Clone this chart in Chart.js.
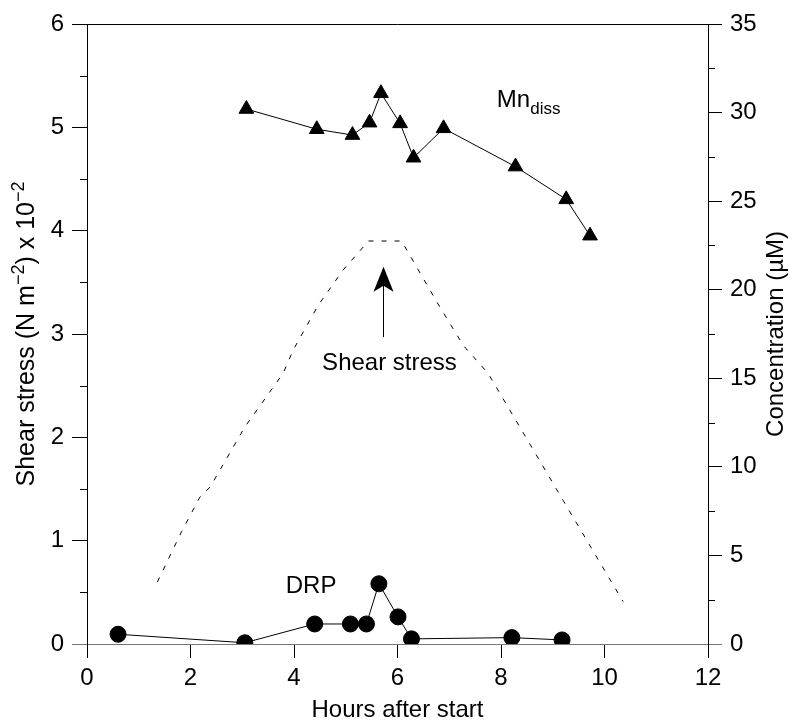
<!DOCTYPE html>
<html>
<head>
<meta charset="utf-8">
<script src="https://cdn.jsdelivr.net/npm/chart.js@4.4.0/dist/chart.umd.min.js"></script>
<style>
  html, body { margin: 0; padding: 0; background: #fff; }
</style>
</head>
<body>
<canvas id="grafico" width="796" height="726"></canvas>
<script>
// Esfuerzo de corte (eje izquierdo, N m-2 x 10-2)
const horasCorte = [1.36, 1.83, 2.18, 2.38, 3.05, 3.79, 3.99, 4.47, 4.95, 5.44, 6.08, 6.31, 6.76, 7.27, 7.75, 9.20, 10.36];
const esfuerzoCorte = [0.60, 1.09, 1.42, 1.52, 2.10, 2.62, 2.85, 3.28, 3.62, 3.90, 3.90, 3.70, 3.31, 2.89, 2.62, 1.39, 0.41];

// Mn disuelto (eje derecho, uM)
const horasMn = [3.08, 4.44, 5.13, 5.46, 5.68, 6.05, 6.31, 6.89, 8.28, 9.26, 9.72];
const mnDiss = [30.2, 29.06, 28.73, 29.43, 31.09, 29.39, 27.45, 29.11, 26.95, 25.1, 23.05];

// DRP (eje derecho, uM)
const horasDrp = [0.60, 3.05, 4.40, 5.09, 5.40, 5.64, 6.01, 6.27, 8.21, 9.18];
const drp = [0.55, 0.07, 1.13, 1.13, 1.13, 3.40, 1.53, 0.29, 0.36, 0.23];

// Ticks de los ejes
const ticksX = [0, 2, 4, 6, 8, 10, 12];
const ticksIzq = [0, 1, 2, 3, 4, 5, 6];
const ticksDer = [0, 5, 10, 15, 20, 25, 30, 35];

const fuente = '"Liberation Sans", Arial, sans-serif';
const toPuntos = (xs, ys) => xs.map((x, i) => ({ x: x, y: ys[i] }));

// Dibuja textos, flecha, ticks menores y linea superior
const extras = {
  id: 'extras',
  afterDraw(chart) {
    const { ctx, chartArea, scales } = chart;
    const sx = scales.x, sy = scales.y, sy1 = scales.y1;
    ctx.save();
    ctx.fillStyle = '#000';
    ctx.strokeStyle = '#000';
    ctx.lineWidth = 1;

    // linea superior
    ctx.beginPath();
    ctx.moveTo(chartArea.left, chartArea.top + 0.5);
    ctx.lineTo(chartArea.right, chartArea.top + 0.5);
    ctx.stroke();

    // ticks menores
    ctx.beginPath();
    for (let v = 0.5; v < 6; v += 1) {
      const y = Math.round(sy.getPixelForValue(v)) + 0.5;
      ctx.moveTo(chartArea.left - 7, y);
      ctx.lineTo(chartArea.left, y);
    }
    for (let v = 2.5; v < 35; v += 5) {
      const y = Math.round(sy1.getPixelForValue(v)) + 0.5;
      ctx.moveTo(chartArea.right, y);
      ctx.lineTo(chartArea.right + 7, y);
    }
    ctx.stroke();

    // etiquetas
    ctx.textBaseline = 'alphabetic';
    ctx.textAlign = 'left';
    ctx.font = '24px ' + fuente;
    const mx = sx.getPixelForValue(7.92), my = sy1.getPixelForValue(30.3);
    ctx.fillText('Mn', mx, my);
    const wMn = ctx.measureText('Mn').width;
    ctx.font = '17px ' + fuente;
    ctx.fillText('diss', mx + wMn, my + 7);

    ctx.font = '24px ' + fuente;
    ctx.textAlign = 'center';
    ctx.fillText('Shear stress', sx.getPixelForValue(5.845), sy.getPixelForValue(2.65));
    ctx.textAlign = 'left';
    ctx.fillText('DRP', sx.getPixelForValue(3.84), sy.getPixelForValue(0.49));

    // flecha
    const ax = Math.round(sx.getPixelForValue(5.72)) + 0.5;
    const ay0 = sy.getPixelForValue(2.97), ay1 = sy.getPixelForValue(3.65);
    ctx.beginPath();
    ctx.moveTo(ax, ay0);
    ctx.lineTo(ax, ay1 + 15);
    ctx.stroke();
    ctx.beginPath();
    ctx.moveTo(ax, ay1);
    ctx.lineTo(ax - 10, ay1 + 25);
    ctx.lineTo(ax, ay1 + 19);
    ctx.lineTo(ax + 10, ay1 + 25);
    ctx.closePath();
    ctx.fill();

    // titulos de los ejes verticales con superindices
    const cy = (chartArea.top + chartArea.bottom) / 2;
    const partes = [
      ['Shear stress (N m', 25, 0], ['\u22122', 18, -10], [') x 10', 25, 0], ['\u22122', 18, -10]
    ];
    let total = 0;
    partes.forEach(p => { ctx.font = p[1] + 'px ' + fuente; total += ctx.measureText(p[0]).width; });
    ctx.save();
    ctx.translate(34, cy);
    ctx.rotate(-Math.PI / 2);
    let px = -total / 2;
    partes.forEach(p => {
      ctx.font = p[1] + 'px ' + fuente;
      ctx.fillText(p[0], px, p[2]);
      px += ctx.measureText(p[0]).width;
    });
    ctx.restore();

    ctx.save();
    ctx.font = '24px ' + fuente;
    ctx.textAlign = 'center';
    ctx.translate(783, cy);
    ctx.rotate(-Math.PI / 2);
    ctx.fillText('Concentration (\u00b5M)', 0, 0);
    ctx.restore();

    ctx.restore();
  }
};

const chartInstance = new Chart(document.querySelector('#grafico'), {
  type: 'scatter',
  data: {
    datasets: [
      {
        label: 'Shear stress',
        data: toPuntos(horasCorte, esfuerzoCorte),
        yAxisID: 'y',
        showLine: true,
        borderColor: '#000',
        borderWidth: 1,
        borderDash: [5, 8],
        pointRadius: 0
      },
      {
        label: 'Mn diss',
        data: toPuntos(horasMn, mnDiss),
        yAxisID: 'y1',
        showLine: true,
        borderColor: '#000',
        borderWidth: 1,
        pointStyle: 'triangle',
        pointRadius: 8.5,
        pointBackgroundColor: '#000',
        pointBorderColor: '#000'
      },
      {
        label: 'DRP',
        data: toPuntos(horasDrp, drp),
        yAxisID: 'y1',
        showLine: true,
        borderColor: '#000',
        borderWidth: 1,
        pointStyle: 'circle',
        pointRadius: 8,
        pointBackgroundColor: '#000',
        pointBorderColor: '#000'
      }
    ]
  },
  options: {
    responsive: false,
    animation: false,
    layout: { padding: { top: 24, left: 0, right: 0, bottom: 0 } },
    plugins: { legend: { display: false }, tooltip: { enabled: false } },
    scales: {
      x: {
        type: 'linear',
        min: 0,
        max: 12,
        afterBuildTicks: s => { s.ticks = ticksX.map(v => ({ value: v })); },
        afterFit: s => { s.height = 82; },
        ticks: { color: '#000', font: { family: fuente, size: 24 }, padding: 6, maxRotation: 0 },
        grid: { drawOnChartArea: false, tickLength: 14, tickColor: '#000', color: '#000' },
        border: { display: true, color: '#777', width: 1 },
        title: { display: true, text: 'Hours after start', color: '#000', font: { family: fuente, size: 24 }, padding: { top: 0, bottom: 1 } }
      },
      y: {
        type: 'linear',
        position: 'left',
        min: 0,
        max: 6,
        afterBuildTicks: s => { s.ticks = ticksIzq.map(v => ({ value: v })); },
        afterFit: s => { s.width = 87; },
        ticks: { color: '#000', font: { family: fuente, size: 24 }, padding: 8 },
        grid: {
          drawOnChartArea: false,
          tickLength: 15,
          tickColor: c => (c.tick && c.tick.value === 0 ? '#777' : '#000')
        },
        border: { display: true, color: '#000', width: 1 }
      },
      y1: {
        type: 'linear',
        position: 'right',
        min: 0,
        max: 35,
        afterBuildTicks: s => { s.ticks = ticksDer.map(v => ({ value: v })); },
        afterFit: s => { s.width = 88; },
        ticks: { color: '#000', font: { family: fuente, size: 24 }, padding: 8 },
        grid: {
          drawOnChartArea: false,
          tickLength: 14,
          tickColor: c => (c.tick && c.tick.value === 0 ? '#777' : '#000')
        },
        border: { display: true, color: '#000', width: 1 }
      }
    }
  },
  plugins: [extras]
});
</script>
</body>
</html>
